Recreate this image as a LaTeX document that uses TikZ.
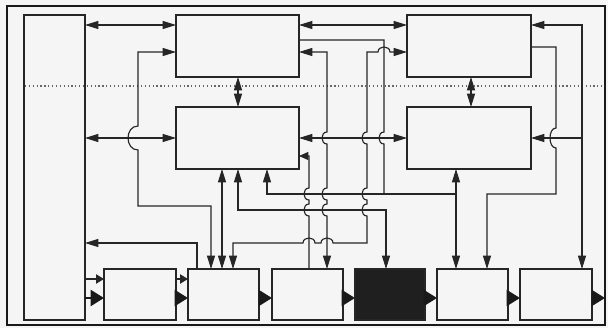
\documentclass[tikz,border=0pt]{standalone}
\usetikzlibrary{arrows.meta,fit}
\newcommand{\hopdn}[2]{-- (#1,#2-6) .. controls (#1-6.7,#2-6) and (#1-6.7,#2+6) .. (#1,#2+6)}
\newcommand{\hopup}[2]{-- (#1,#2+6) .. controls (#1-6.7,#2+6) and (#1-6.7,#2-6) .. (#1,#2-6)}
\begin{document}
\begin{tikzpicture}[x=0.75pt,y=-0.75pt,
  box/.style={draw=black!85, line width=0.9pt, inner sep=0pt, outer sep=0pt},
  ln/.style={draw=black!85, line width=0.85pt},
  >={Triangle[length=10pt,width=6pt]},
  big/.style={draw=black!90, line width=1.6pt, -{Triangle[length=10pt,width=12pt]}},
  small/.style={ln, -{Triangle[length=6pt,width=7pt]}}]
\useasboundingbox (0,0) rectangle (608,328);
\fill[black!4] (0,0) rectangle (608,328);
\draw[line width=1.6pt, black!90] (7,6) rectangle (605,325);

% boxes
\node[box, fit={(24,15) (85,320)}] (L) {};
\node[box, fit={(176,15) (299,77)}] (A) {};
\node[box, fit={(407,15) (531,77)}] (B) {};
\node[box, fit={(176,107) (299,169)}] (C) {};
\node[box, fit={(407,107) (531,169)}] (D) {};
\node[box, fit={(104,269) (176,320)}] (E) {};
\node[box, fit={(188,269) (259,320)}] (F) {};
\node[box, fit={(272,269) (343,320)}] (G) {};
\node[box, fill=black!88, fit={(355,269) (425,320)}] (H) {};
\node[box, fit={(437,269) (508,320)}] (I) {};
\node[box, fit={(520,269) (592,320)}] (J) {};

% dotted divider
\draw[dotted, line width=0.9pt, black!60] (25,86) -- (605,86);

% top row links
\draw[ln,<->] (L.east |- 0,25) -- (A.west |- 0,25);
\draw[ln,<->] (A.east |- 0,25) -- (B.west |- 0,25);
\draw[ln,<->] (L.east |- 0,138) -- (C.west |- 0,138);
\draw[ln,<->] (C.east |- 0,138) -- (D.west |- 0,138);
\draw[ln,<->] (A.south -| 238,0) -- (C.north -| 238,0);
\draw[ln,<->] (B.south -| 471,0) -- (D.north -| 471,0);

% F <-> A via left route
\draw[ln,<->] (F.north -| 211,0) -- (211,206) -- (138,206) -- (138,150)
  .. controls (124.7,150) and (124.7,126) .. (138,126) -- (138,52) -- (A.west |- 0,52);

% A output bus
\draw[ln] (A.east |- 0,40) -- (384,40) \hopdn{384}{138} -- (384,194);
\draw[ln,<->] (D.south -| 456,0) -- (I.north -| 456,0);
\draw[ln,->] (456,194) -- (267,194) -- (C.south -| 267,0);

% C <-> H
\draw[ln,<->] (C.south -| 238,0) -- (238,210) -- (386,210) -- (H.north -| 386,0);
% C <-> F
\draw[ln,<->] (C.south -| 222,0) -- (F.north -| 222,0);
% G -> C
\draw[ln,-{Triangle[length=7pt,width=6pt]}] (G.north -| 309,0) \hopup{309}{210} \hopup{309}{194} -- (309,156) -- (C.east |- 0,156);
% A <-> G
\draw[ln,<->] (A.east |- 0,52) -- (327,52) \hopdn{327}{138} \hopdn{327}{194} \hopdn{327}{210} -- (G.north -| 327,0);
% B <-> F
\draw[ln,<->] (B.west |- 0,52) -- (390,52) .. controls (390,45.3) and (378,45.3) .. (378,52) -- (367,52)
  \hopdn{367}{138} \hopdn{367}{194} \hopdn{367}{210} -- (367,243) -- (333,243)
  .. controls (333,236.3) and (321,236.3) .. (321,243) -- (315,243)
  .. controls (315,236.3) and (303,236.3) .. (303,243) -- (233,243) -- (F.north -| 233,0);
% F -> L
\draw[ln,->] (F.north -| 197,0) -- (197,243) -- (L.east |- 0,243);
% B -> I
\draw[ln,->] (B.east |- 0,47) -- (556,47) -- (556,128) .. controls (548,128) and (548,148) .. (556,148)
  -- (556,194) -- (487,194) -- (I.north -| 487,0);
% B, D, J bus
\draw[ln,<->] (B.east |- 0,25) -- (582,25) -- (J.north -| 582,0);
\draw[ln,->] (582,138) -- (D.east |- 0,138);

% bottom chain
\draw[small] (L.east |- 0,279) -- (E.west |- 0,279);
\draw[small] (E.east |- 0,279) -- (F.west |- 0,279);
\draw[big] (L.east |- 0,298) -- (E.west |- 0,298);
\draw[big] (E.east |- 0,298) -- (F.west |- 0,298);
\draw[big] (F.east |- 0,298) -- (G.west |- 0,298);
\draw[big] (G.east |- 0,298) -- (H.west |- 0,298);
\draw[big] (H.east |- 0,298) -- (I.west |- 0,298);
\draw[big] (I.east |- 0,298) -- (J.west |- 0,298);
\coordinate (out) at (605,298);
\draw[big] (J.east |- 0,298) -- (out);
\end{tikzpicture}
\end{document}
